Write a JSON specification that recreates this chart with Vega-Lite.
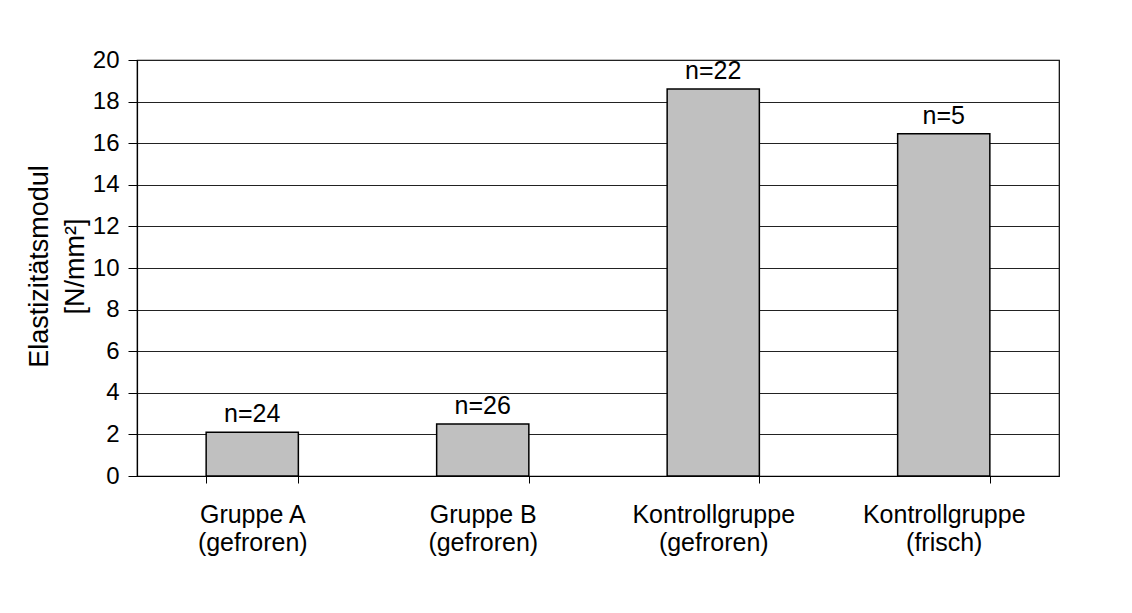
{
  "$schema": "https://vega.github.io/schema/vega-lite/v6.json",
  "autosize": {"type": "none"},
  "padding": {"left": 137, "top": 60, "right": 73, "bottom": 137},
  "width": 922,
  "height": 416,
  "background": "white",
  "config": {
    "font": "Liberation Sans",
    "view": {"stroke": "black", "strokeWidth": 1.2},
    "axis": {"labelColor": "black", "titleColor": "black", "domainColor": "black", "tickColor": "black", "labelFont": "Liberation Sans", "titleFont": "Liberation Sans"}
  },
  "data": {
    "values": [
      {"gruppe": "Gruppe A|(gefroren)", "wert": 2.1, "n": "n=24"},
      {"gruppe": "Gruppe B|(gefroren)", "wert": 2.5, "n": "n=26"},
      {"gruppe": "Kontrollgruppe|(gefroren)", "wert": 18.6, "n": "n=22"},
      {"gruppe": "Kontrollgruppe|(frisch)", "wert": 16.45, "n": "n=5"}
    ]
  },
  "encoding": {
    "x": {
      "field": "gruppe",
      "type": "nominal",
      "sort": null,
      "scale": {"paddingInner": 0.6, "paddingOuter": 0.3},
      "axis": {
        "title": null,
        "labelAngle": 0,
        "labelExpr": "split(datum.label, '|')",
        "labelFontSize": 25,
        "labelLineHeight": 28,
        "labelPadding": 19,
        "tickSize": 7,
        "tickBand": "extent",
        "domainWidth": 1.2
      }
    },
    "y": {
      "field": "wert",
      "type": "quantitative",
      "scale": {"domain": [0, 20], "nice": false},
      "axis": {
        "values": [0, 2, 4, 6, 8, 10, 12, 14, 16, 18, 20],
        "title": ["Elastizitätsmodul", "[N/mm²]"],
        "titleFontSize": 27,
        "titleFontWeight": "normal",
        "titleLineHeight": 36,
        "titleAngle": -90,
        "titleX": -90,
        "titleY": 206,
        "titleAlign": "center",
        "titleBaseline": "alphabetic",
        "labelFontSize": 24,
        "labelPadding": 9,
        "tickSize": 9,
        "grid": true,
        "gridColor": "#222222",
        "gridWidth": 1,
        "domainWidth": 1.2
      }
    }
  },
  "layer": [
    {
      "mark": {"type": "bar", "fill": "#C0C0C0", "stroke": "black", "strokeWidth": 1.5}
    },
    {
      "mark": {"type": "text", "baseline": "alphabetic", "dy": -10, "fontSize": 25, "color": "black"},
      "encoding": {"text": {"field": "n"}}
    }
  ]
}
